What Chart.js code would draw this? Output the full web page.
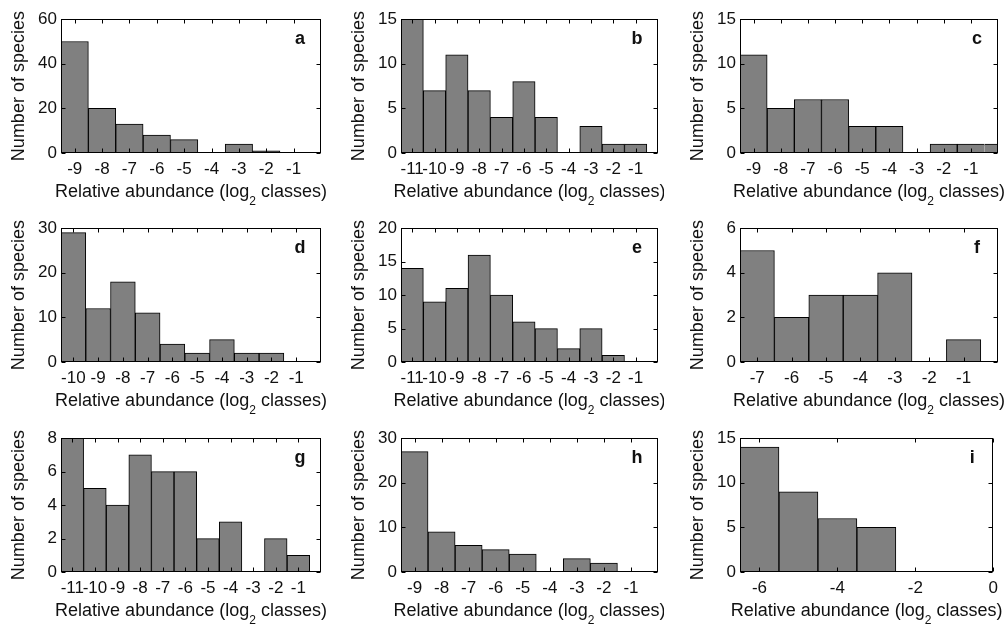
<!DOCTYPE html>
<html>
<head>
<meta charset="utf-8">
<script src="https://cdn.jsdelivr.net/npm/chart.js@4.4.1/dist/chart.umd.min.js"></script>
<style>
  html, body { margin: 0; padding: 0; background: #fff; overflow: hidden; }
  body { width: 1005px; height: 626px; position: relative; }
  canvas { position: absolute; }
</style>
</head>
<body>
<canvas id="pa"></canvas>
<canvas id="pb"></canvas>
<canvas id="pc"></canvas>
<canvas id="pd"></canvas>
<canvas id="pe"></canvas>
<canvas id="pf"></canvas>
<canvas id="pg"></canvas>
<canvas id="ph"></canvas>
<canvas id="pi"></canvas>
<script>
/* bin centres (log2 classes) and number of species per panel */
const binsA = [-9, -8, -7, -6, -5, -4, -3, -2, -1];
const countsA = [50, 20, 13, 8, 6, 0, 4, 1, 0];
const binsB = [-11, -10, -9, -8, -7, -6, -5, -4, -3, -2, -1];
const countsB = [15, 7, 11, 7, 4, 8, 4, 0, 3, 1, 1];
const binsC = [-9, -8, -7, -6, -5, -4, -3, -2, -1, 0];
const countsC = [11, 5, 6, 6, 3, 3, 0, 1, 1, 1];
const binsD = [-10, -9, -8, -7, -6, -5, -4, -3, -2, -1];
const countsD = [29, 12, 18, 11, 4, 2, 5, 2, 2, 0];
const binsE = [-11, -10, -9, -8, -7, -6, -5, -4, -3, -2, -1];
const countsE = [14, 9, 11, 16, 10, 6, 5, 2, 5, 1, 0];
const binsF = [-7, -6, -5, -4, -3, -2, -1];
const countsF = [5, 2, 3, 3, 4, 0, 1];
const binsG = [-11, -10, -9, -8, -7, -6, -5, -4, -3, -2, -1];
const countsG = [8, 5, 4, 7, 6, 6, 2, 3, 0, 2, 1];
const binsH = [-9, -8, -7, -6, -5, -4, -3, -2, -1];
const countsH = [27, 9, 6, 5, 4, 0, 3, 2, 0];
const binsI = [-6, -5, -4, -3];
const countsI = [14, 9, 6, 5];

/* tick labels */
const xTicks9 = [-9, -8, -7, -6, -5, -4, -3, -2, -1];
const xTicks10 = [-10, -9, -8, -7, -6, -5, -4, -3, -2, -1];
const xTicks11 = [-11, -10, -9, -8, -7, -6, -5, -4, -3, -2, -1];
const xTicks7 = [-7, -6, -5, -4, -3, -2, -1];
const xTicksI = [-6, -4, -2, 0];
const yTicksA = [0, 20, 40, 60];
const yTicks15 = [0, 5, 10, 15];
const yTicks30 = [0, 10, 20, 30];
const yTicksE = [0, 5, 10, 15, 20];
const yTicksF = [0, 2, 4, 6];
const yTicksG = [0, 2, 4, 6, 8];

const xLabel = ["Relative abundance (log", "2", " classes)"];
const yLabel = "Number of species";

const panels = [
  { id: "pa", letter: "a", bins: binsA, counts: countsA, xTicks: xTicks9, yTicks: yTicksA, xMin: -9.5, col: 0, row: 0 },
  { id: "pb", letter: "b", bins: binsB, counts: countsB, xTicks: xTicks11, yTicks: yTicks15, xMin: -11.5, col: 1, row: 0 },
  { id: "pc", letter: "c", bins: binsC, counts: countsC, xTicks: xTicks9, yTicks: yTicks15, xMin: -9.5, col: 2, row: 0, joinAt: -1 },
  { id: "pd", letter: "d", bins: binsD, counts: countsD, xTicks: xTicks10, yTicks: yTicks30, xMin: -10.5, col: 0, row: 1 },
  { id: "pe", letter: "e", bins: binsE, counts: countsE, xTicks: xTicks11, yTicks: yTicksE, xMin: -11.5, col: 1, row: 1 },
  { id: "pf", letter: "f", bins: binsF, counts: countsF, xTicks: xTicks7, yTicks: yTicksF, xMin: -7.5, col: 2, row: 1 },
  { id: "pg", letter: "g", bins: binsG, counts: countsG, xTicks: xTicks11, yTicks: yTicksG, xMin: -11.5, col: 0, row: 2 },
  { id: "ph", letter: "h", bins: binsH, counts: countsH, xTicks: xTicks9, yTicks: yTicks30, xMin: -9.5, col: 1, row: 2 },
  { id: "pi", letter: "i", bins: binsI, counts: countsI, xTicks: xTicksI, yTicks: yTicks15, xMin: -6.5, col: 2, row: 2 },
];

/* layout of the 3x3 grid */
const colLeft = [61, 401, 740];
const colWidth = [260, 257, 258];
const rowTop = [15, 224, 434];
const plotH = 138;
const axisW = 61, axisH = 54, padTop = 10, padRight = 6;

const FONT = "'Liberation Sans', Arial, sans-serif";
const INK = "#111";

// MATLAB-like box with inward ticks, panel letter and axis titles
const framePlugin = {
  id: "frame",
  afterDatasetsDraw(chart, args, opts) {
    const { ctx, chartArea: a, scales } = chart;
    const L = Math.round(a.left) + 0.5, R = Math.round(a.right) - 0.5;
    const T = Math.round(a.top) + 0.5, B = Math.round(a.bottom) - 0.5;
    ctx.save();
    ctx.strokeStyle = "#000";
    ctx.lineWidth = 1;
    ctx.beginPath();
    scales.x.ticks.forEach((t) => {
      const px = Math.round(scales.x.getPixelForValue(t.value)) + 0.5;
      ctx.moveTo(px, B); ctx.lineTo(px, B - 4);
      ctx.moveTo(px, T); ctx.lineTo(px, T + 4);
    });
    scales.y.ticks.forEach((t) => {
      const py = Math.round(scales.y.getPixelForValue(t.value)) + 0.5;
      ctx.moveTo(L, py); ctx.lineTo(L + 4, py);
      ctx.moveTo(R, py); ctx.lineTo(R - 4, py);
    });
    ctx.stroke();
    ctx.strokeRect(L, T, R - L, B - T);

    ctx.fillStyle = INK;
    ctx.textAlign = "center";
    ctx.textBaseline = "middle";
    ctx.font = "bold 18px " + FONT;
    ctx.fillText(opts.letter, a.right - 21, a.top + 20);

    // y title
    ctx.save();
    ctx.translate(a.left - 42, (a.top + a.bottom) / 2);
    ctx.rotate(-Math.PI / 2);
    ctx.font = "18px " + FONT;
    ctx.textBaseline = "middle";
    ctx.fillText(yLabel, 0, 0);
    ctx.restore();

    // x title with subscript
    ctx.textBaseline = "alphabetic";
    ctx.textAlign = "left";
    const big = "18px " + FONT, small = "12px " + FONT;
    ctx.font = big;
    const w1 = ctx.measureText(xLabel[0]).width;
    const w3 = ctx.measureText(xLabel[2]).width;
    ctx.font = small;
    const w2 = ctx.measureText(xLabel[1]).width;
    let x = (a.left + a.right) / 2 - (w1 + w2 + w3) / 2;
    const base = a.bottom + 44;
    ctx.font = big;
    ctx.fillText(xLabel[0], x, base);
    x += w1;
    ctx.font = small;
    ctx.fillText(xLabel[1], x, base + 8);
    x += w2;
    ctx.font = big;
    ctx.fillText(xLabel[2], x, base);
    ctx.restore();
  },
};

panels.forEach((p) => {
  const canvas = document.getElementById(p.id);
  const w = axisW + colWidth[p.col] + padRight;
  const h = padTop + plotH + axisH;
  canvas.width = w;
  canvas.height = h;
  canvas.style.left = colLeft[p.col] - axisW + "px";
  canvas.style.top = rowTop[p.row] - padTop + "px";
  canvas.style.width = w + "px";
  canvas.style.height = h + "px";

  new Chart(canvas.getContext("2d"), {
    type: "bar",
    data: {
      datasets: [
        {
          data: p.bins.map((b, i) => ({ x: b, y: p.counts[i] })),
          backgroundColor: "#808080",
          borderColor: "#000",
          borderWidth: (c) => {
            const bx = c.raw ? c.raw.x : null;
            return {
              top: 1,
              bottom: 1,
              left: bx === p.joinAt + 1 ? 0 : 1,
              right: bx === p.joinAt ? 0 : 1,
            };
          },
          barPercentage: 1,
          categoryPercentage: 1,
        },
      ],
    },
    options: {
      responsive: false,
      animation: false,
      events: [],
      layout: { padding: { top: padTop, right: padRight, left: 0, bottom: 0 } },
      plugins: {
        legend: { display: false },
        tooltip: { enabled: false },
        frame: { letter: p.letter },
      },
      scales: {
        x: {
          type: "linear",
          offset: false,
          min: p.xMin,
          max: 0,
          grid: { display: false, drawTicks: false },
          border: { display: false },
          ticks: {
            autoSkip: false,
            maxRotation: 0,
            minRotation: 0,
            padding: 6,
            color: INK,
            font: { family: FONT, size: 17 },
            callback: (v) => String(v),
          },
          afterBuildTicks: (s) => {
            s.ticks = p.xTicks.map((v) => ({ value: v }));
          },
          afterFit: (s) => {
            s.height = axisH;
          },
        },
        y: {
          min: 0,
          max: p.yTicks[p.yTicks.length - 1],
          grid: { display: false, drawTicks: false },
          border: { display: false },
          ticks: {
            padding: 4,
            color: INK,
            font: { family: FONT, size: 17 },
            callback: (v) => String(v),
          },
          afterBuildTicks: (s) => {
            s.ticks = p.yTicks.map((v) => ({ value: v }));
          },
          afterFit: (s) => {
            s.width = axisW;
          },
        },
      },
    },
    plugins: [framePlugin],
  });
});
</script>
</body>
</html>
